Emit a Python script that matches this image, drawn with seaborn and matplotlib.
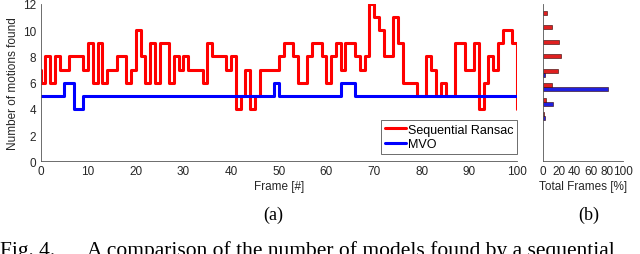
import numpy as np
import pandas as pd
import matplotlib
matplotlib.use("Agg")
import matplotlib.pyplot as plt
import seaborn as sns

# ---------------- data ----------------
frames = list(range(0, 102))
ransac = [7,
          6, 8, 6, 8, 7, 7, 8, 8, 8, 7,
          9, 6, 9, 6, 7, 7, 8, 8, 6, 7,
          10, 8, 6, 9, 6, 9, 9, 6, 8, 7,
          8, 7, 7, 7, 6, 9, 8, 8, 8, 7,
          8, 4, 5, 7, 4, 5, 7, 7, 7, 7,
          8, 9, 9, 8, 6, 6, 8, 9, 9, 8,
          6, 8, 9, 7, 9, 9, 8, 7, 8, 12,
          11, 10, 8, 8, 11, 9, 6, 6, 6, 5,
          5, 8, 7, 5, 6, 5, 5, 9, 9, 7,
          7, 9, 4, 6, 8, 7, 9, 10, 10, 9,
          4]
mvo = [5,
       5, 5, 5, 5, 5, 6, 6, 4, 4, 5,
       5, 5, 5, 5, 5, 5, 5, 5, 5, 5,
       5, 5, 5, 5, 5, 5, 5, 5, 5, 5,
       5, 5, 5, 5, 5, 5, 5, 5, 5, 5,
       5, 5, 5, 5, 5, 5, 5, 5, 5, 6,
       5, 5, 5, 5, 5, 5, 5, 5, 5, 5,
       5, 5, 5, 6, 6, 6, 5, 5, 5, 5,
       5, 5, 5, 5, 5, 5, 5, 5, 5, 5,
       5, 5, 5, 5, 5, 5, 5, 5, 5, 5,
       5, 5, 5, 5, 5, 5, 5, 5, 5, 5,
       5]

hist_ransac_counts = [3, 4, 5, 6, 7, 8, 9, 10]
hist_ransac_pct = [1.5, 4.5, 12, 19, 23, 20, 11.5, 5.5]
hist_mvo_counts = [3, 4, 5, 6]
hist_mvo_pct = [3.5, 13, 82, 3]

x_ticks = [0, 10, 20, 30, 40, 50, 60, 70, 80, 90, 100]
y_ticks = [0, 2, 4, 6, 8, 10, 12]
hist_x_ticks = [0, 20, 40, 60, 80, 100]

labels = ["Sequential Ransac", "MVO"]
colors = {"Sequential Ransac": "#ff0000", "MVO": "#0000ff"}

# ---------------- style ----------------
sns.set_style("white")
plt.rcParams["font.family"] = ["Liberation Sans", "DejaVu Sans"]
plt.rcParams["axes.linewidth"] = 0.6
spine_c = "#555555"
text_c = "#262626"

fig = plt.figure(figsize=(6.4, 2.55), dpi=100)
ax = fig.add_axes([0.0633, 0.3635, 0.7445, 0.6169])
axb = fig.add_axes([0.8477, 0.3635, 0.1253, 0.6169])

# ---------------- main step plot ----------------
df = pd.DataFrame({
    "frame": frames + frames,
    "count": ransac + mvo,
    "method": [labels[0]] * len(frames) + [labels[1]] * len(frames),
})
sns.lineplot(data=df, x="frame", y="count", hue="method", hue_order=labels,
             palette=colors, drawstyle="steps-pre", linewidth=2.2,
             estimator=None, legend=False, ax=ax)

ax.set_xlim(0, 100)
ax.set_ylim(0, 12)
ax.set_xticks(x_ticks)
ax.set_yticks(y_ticks)
ax.set_xlabel("Frame [#]", fontsize=8.5, color=text_c, labelpad=2)
ax.set_ylabel("Number of motions found", fontsize=8.5, color=text_c, labelpad=3)
ax.tick_params(direction="in", length=2.5, width=0.6, colors=spine_c,
               labelcolor=text_c, labelsize=8.5, pad=3)
for s in ["top", "right"]:
    ax.spines[s].set_visible(False)
for s in ["left", "bottom"]:
    ax.spines[s].set_color(spine_c)

leg = ax.legend(ax.lines[:2], labels, loc="lower right",
                bbox_to_anchor=(1.0, 0.046), fontsize=9, frameon=True,
                fancybox=False, edgecolor=spine_c, framealpha=1,
                handlelength=1.7, handletextpad=0.15, borderpad=0.3,
                labelspacing=0.2, borderaxespad=0)
leg.get_frame().set_linewidth(0.6)
for t in leg.get_texts():
    t.set_color("black")

# ---------------- histogram ----------------
hdf = pd.DataFrame({
    "count": hist_mvo_counts + hist_ransac_counts,
    "pct": hist_mvo_pct + hist_ransac_pct,
    "method": [labels[1]] * len(hist_mvo_counts) + [labels[0]] * len(hist_ransac_counts),
})
sns.barplot(data=hdf, x="pct", y="count", hue="method",
            hue_order=[labels[1], labels[0]], palette=colors, orient="h",
            native_scale=True, width=0.55, errorbar=None, legend=False,
            edgecolor="#300000", linewidth=0.4, ax=axb)
axb.set_xlim(0, 100)
axb.set_ylim(-0.1, 10.75)
axb.set_xticks(hist_x_ticks)
axb.set_yticks(list(range(0, 11)))
axb.set_yticklabels([])
axb.set_ylabel("")
axb.set_xlabel("Total Frames [%]", fontsize=8.5, color=text_c, labelpad=2)
axb.tick_params(direction="in", length=2.5, width=0.6, colors=spine_c,
                labelcolor=text_c, labelsize=8.5, pad=3)
for s in ["top", "right"]:
    axb.spines[s].set_visible(False)
for s in ["left", "bottom"]:
    axb.spines[s].set_color(spine_c)

# ---------------- captions ----------------
serif = ["Liberation Serif", "DejaVu Serif"]
fig.text(273 / 640, 1 - 215 / 255, "(a)", ha="center", va="center",
         family=serif, fontsize=13, color="black")
fig.text(589 / 640, 1 - 215 / 255, "(b)", ha="center", va="center",
         family=serif, fontsize=13, color="black")
fig.text(0 / 640, 1 - 256 / 255, "Fig. 4.", ha="left", va="baseline",
         family=serif, fontsize=15.5, color="black")
fig.text(87 / 640, 1 - 256 / 255,
         "A comparison of the number of models found by a sequential",
         ha="left", va="baseline", family=serif, fontsize=15.5, color="black")

fig.savefig("out.png", dpi=100)
